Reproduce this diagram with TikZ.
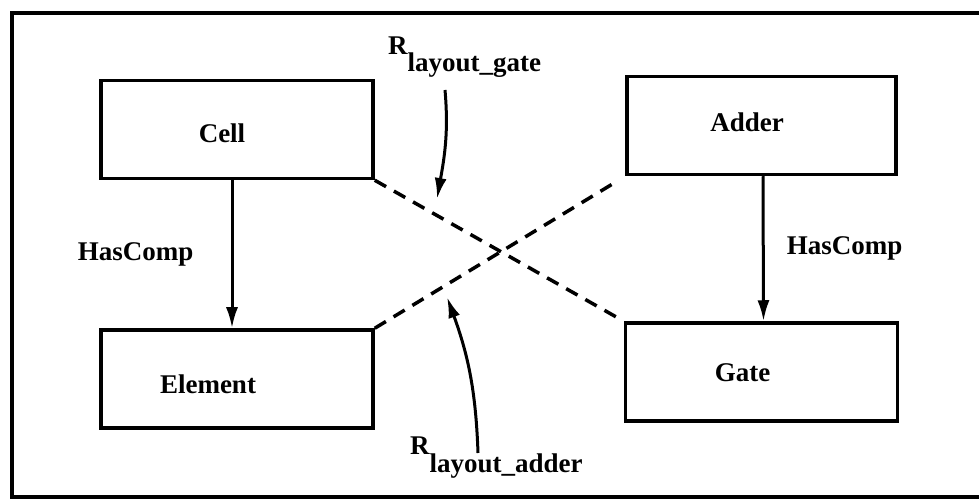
\documentclass[tikz,border=0pt]{standalone}
\usepackage{fontspec}
\setmainfont{Liberation Serif}
\usetikzlibrary{arrows.meta,positioning}

\begin{document}
\begin{tikzpicture}[x=1pt,y=-1pt,
    every node/.style={font=\fontsize{27}{32}\selectfont\bfseries},
    box/.style={draw,line width=3.5pt,minimum width=272pt,minimum height=98pt},
    rel/.style={inner sep=0pt,anchor=base west},
    dashlink/.style={line width=3.5pt,dash pattern=on 13pt off 9pt},
    arr/.style={-{Latex[length=21pt,width=12pt]},line width=3pt} ]
    \useasboundingbox (0,0) rectangle (979,502);
    \draw[line width=4pt] (995,13) -- (12,13) -- (12,497) -- (995,497);

    \node[box,label={[xshift=-15pt,yshift=-3.5pt]center:Cell}] (cell) at (237,129.5) {};
    \node[box,below=148pt of cell,label={[xshift=-29pt,yshift=-5.5pt]center:Element}] (element) {};
    \node[box,minimum width=269pt,label={[xshift=-14.5pt,yshift=3pt]center:Adder}] (adder) at (761.5,125.5) {};
    \node[box,below=145pt of adder,label={[xshift=-19pt,yshift=-1pt]center:Gate}] (gate) {};

    \draw[arr] ([xshift=-5pt]cell.south) -- node[left=37pt,inner sep=0pt] {HasComp} ([xshift=-5pt]element.north);
    \draw[arr] ([xshift=1.5pt]adder.south) -- node[right=22pt,inner sep=0pt] {HasComp} ([xshift=2pt]gate.north);

    % crossing relations
    \draw[dashlink,shorten >=4pt] (cell.south east) -- (gate.north west);
    \draw[dashlink,shorten >=14pt] (element.north east) -- (adder.south west);

    \node[rel] (rgate) at (388,55) {R\raisebox{-17pt}{layout\_gate}};
    \node[rel] (radder) at (410,454) {R\raisebox{-18pt}{layout\_adder}};

    \coordinate (gtail) at (445,90);
    \coordinate (gtip) at (437,199);
    \coordinate (atail) at (478,453);
    \coordinate (atip) at (447,297);
    \draw[arr] (gtail) to[out=-85,in=80] (gtip);
    \draw[arr] (atail) to[out=92,in=-70] (atip);
\end{tikzpicture}
\end{document}
